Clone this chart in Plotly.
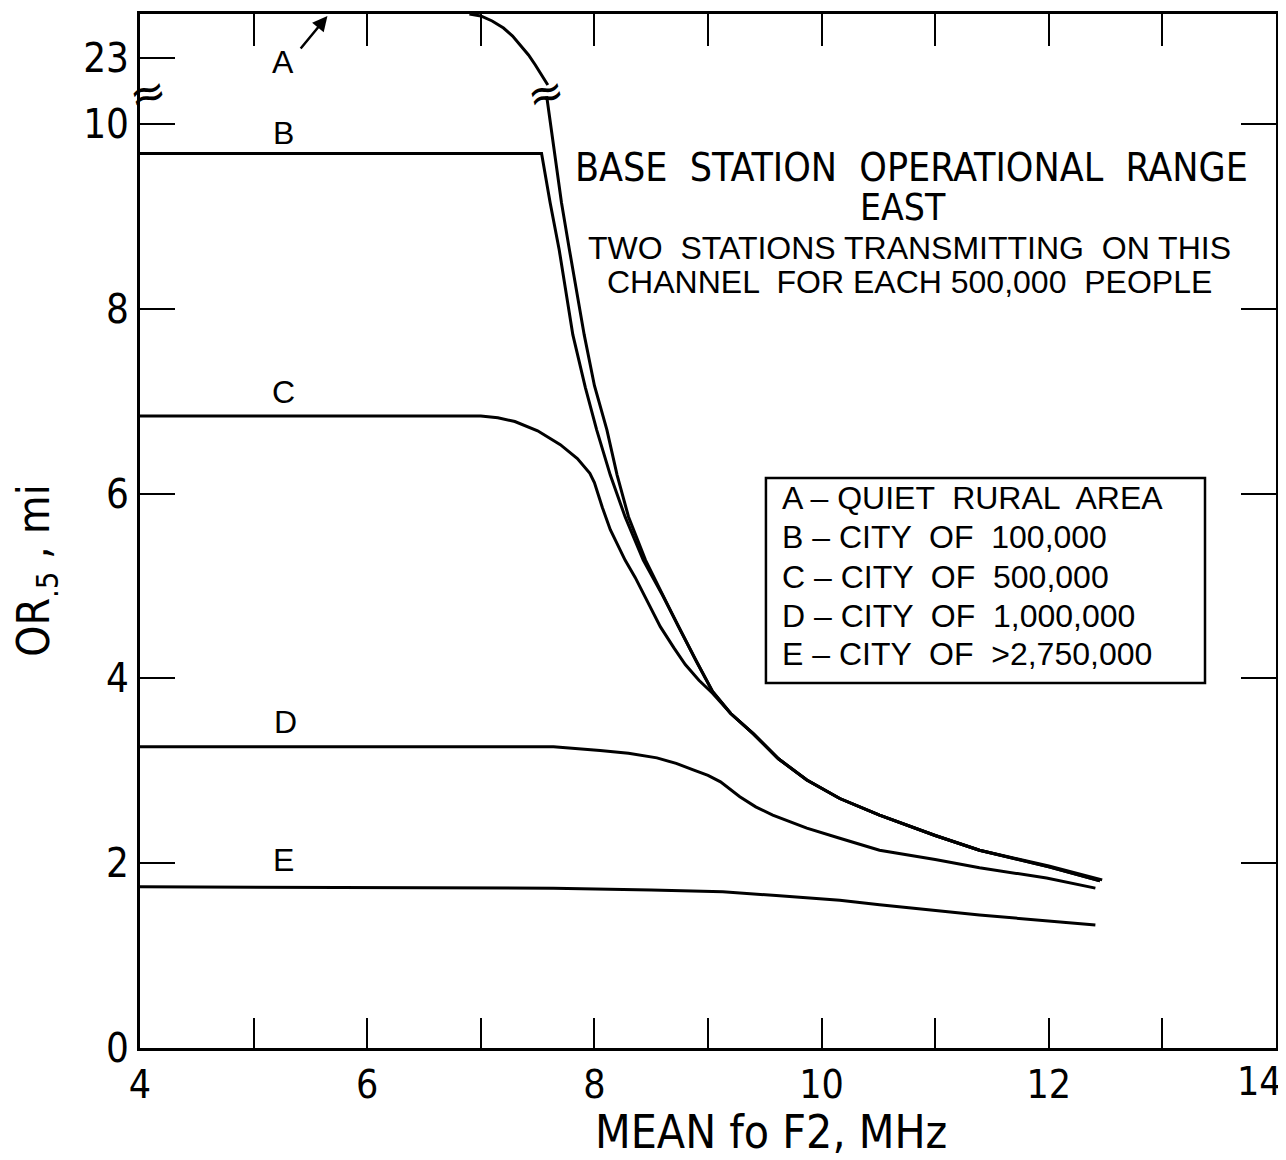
import plotly.graph_objects as go

# ---------------- data ----------------
# Curve A above the axis break (miles, upper scale)
A_up_x = [6.90, 7.00, 7.10, 7.20, 7.28, 7.35, 7.42, 7.48, 7.53, 7.57, 7.59]
A_up_y = [27.4, 27.2, 26.7, 26.0, 25.2, 24.3, 23.3, 22.3, 21.4, 20.7, 20.3]

# Curves below the break (miles)
A_x = [7.58, 7.65, 7.71, 7.78, 7.91, 8.00, 8.11, 8.20, 8.30, 8.45, 8.60, 8.74, 8.90, 9.04, 9.20, 9.40, 9.62, 9.87, 10.16, 10.51, 11.00, 11.39, 12.00, 12.47]
A_y = [10.30, 9.65, 9.15, 8.64, 7.72, 7.17, 6.69, 6.20, 5.75, 5.28, 4.90, 4.56, 4.18, 3.86, 3.62, 3.40, 3.13, 2.90, 2.70, 2.52, 2.30, 2.14, 1.97, 1.82]

B_x = [4.00, 7.535, 7.61, 7.69, 7.81, 7.92, 8.02, 8.14, 8.27, 8.43, 8.60, 8.74, 8.90, 9.04, 9.20, 9.40, 9.62, 9.87, 10.16, 10.51, 11.00, 11.39, 12.00, 12.45]
B_y = [9.68, 9.68, 9.15, 8.64, 7.72, 7.15, 6.69, 6.20, 5.75, 5.28, 4.90, 4.56, 4.18, 3.86, 3.62, 3.40, 3.13, 2.90, 2.70, 2.52, 2.30, 2.14, 1.96, 1.81]

C_x = [4.00, 7.00, 7.15, 7.30, 7.50, 7.70, 7.85, 7.96, 8.00, 8.07, 8.14, 8.27, 8.36, 8.47, 8.58, 8.70, 8.80, 8.92, 9.04, 9.20, 9.40, 9.62, 9.87, 10.16, 10.51, 11.00, 11.39, 12.00, 12.45]
C_y = [6.84, 6.84, 6.82, 6.78, 6.68, 6.53, 6.38, 6.22, 6.12, 5.85, 5.61, 5.28, 5.09, 4.82, 4.56, 4.33, 4.15, 3.98, 3.84, 3.62, 3.40, 3.13, 2.90, 2.70, 2.52, 2.30, 2.14, 1.96, 1.81]

D_x = [4.00, 7.64, 8.05, 8.30, 8.55, 8.72, 8.87, 9.00, 9.11, 9.20, 9.28, 9.42, 9.57, 9.72, 9.87, 10.16, 10.51, 11.00, 11.39, 11.98, 12.41]
D_y = [3.26, 3.26, 3.22, 3.19, 3.14, 3.08, 3.01, 2.95, 2.88, 2.79, 2.72, 2.61, 2.52, 2.45, 2.38, 2.27, 2.14, 2.04, 1.95, 1.84, 1.73]

E_x = [4.00, 7.64, 8.50, 9.13, 9.60, 10.16, 10.51, 11.39, 12.41]
E_y = [1.745, 1.73, 1.71, 1.69, 1.65, 1.60, 1.55, 1.44, 1.33]

x_ticks = [4, 5, 6, 7, 8, 9, 10, 11, 12, 13, 14]
x_ticktext = ["4", "", "6", "", "8", "", "10", "", "12", "", ""]   # "14" drawn at the right edge below
x_last_label = "14"
y_ticks = [0, 2, 4, 6, 8, 10]
y2_ticks = [23]

legend_lines = ["A – QUIET  RURAL  AREA", "B – CITY  OF  100,000", "C – CITY  OF  500,000",
                "D – CITY  OF  1,000,000", "E – CITY  OF  >2,750,000"]

# ---------------- figure ----------------
NARROW = "DejaVu Sans Condensed, Liberation Sans Narrow, Liberation Sans, Arial"
SANS = "Liberation Sans, Arial"
LINE = dict(color="black", width=3)

fig = go.Figure()
fig.add_trace(go.Scatter(x=A_up_x, y=A_up_y, xaxis="x", yaxis="y2", mode="lines", line=LINE,
                         showlegend=False, cliponaxis=True))
for xs, ys in [(A_x, A_y), (B_x, B_y), (C_x, C_y), (D_x, D_y), (E_x, E_y)]:
    fig.add_trace(go.Scatter(x=xs, y=ys, xaxis="x", yaxis="y", mode="lines",
                             line=dict(color="black", width=3), showlegend=False))

# the page body has an 8px margin, so the figure is 8px smaller than the window
W, H = 1278, 1152
L, R, T, B = 132, 10, 6, 112
pw, ph = W - L - R, H - T - B
brk_py = 85          # break position measured from the top of the figure
brk = (H - B - brk_py) / ph

fig.update_layout(
    width=W, height=H,
    margin=dict(l=L, r=R, t=T, b=B, autoexpand=False),
    paper_bgcolor="white", plot_bgcolor="white",
    showlegend=False,
    xaxis=dict(range=[4, 14], domain=[0, 1], anchor="y", tickvals=x_ticks, ticktext=x_ticktext,
               ticks="inside", ticklen=30, tickwidth=2, tickcolor="black", automargin=False,
               ticklabeloverflow="allow",
               showline=True, linecolor="black", linewidth=3, showgrid=False, zeroline=False,
               tickfont=dict(family=NARROW, size=39, color="black")),
    xaxis2=dict(range=[4, 14], overlaying="x", matches="x", anchor="y2", side="top",
                tickvals=x_ticks, ticks="inside", ticklen=32, tickwidth=2, tickcolor="black",
                showticklabels=False, showline=True, linecolor="black", linewidth=3,
                showgrid=False, zeroline=False, automargin=False),
    yaxis=dict(range=[0, (H - B - brk_py) / 92.4], domain=[0, brk], anchor="x",
               tickvals=y_ticks, ticks="inside", ticklen=35, tickwidth=2, tickcolor="black",
               showline=True, linecolor="black", linewidth=3, mirror="ticks", automargin=False,
               showgrid=False, zeroline=False,
               tickfont=dict(family=NARROW, size=40, color="black"),
               title=dict(text="OR<sub>.5</sub> , mi", font=dict(family=NARROW, size=44, color="black"), standoff=30)),
    yaxis2=dict(range=[19.5, 27.4], domain=[brk, 1], anchor="x",
                tickvals=y2_ticks, ticks="inside", ticklen=35, tickwidth=2, tickcolor="black",
                showline=True, linecolor="black", linewidth=3, mirror=True, automargin=False,
                showgrid=False, zeroline=False,
                tickfont=dict(family=NARROW, size=40, color="black")),
)
# invisible trace so the top axis is drawn
fig.add_trace(go.Scatter(x=[4], y=[30], xaxis="x2", yaxis="y2", mode="markers",
                         marker=dict(opacity=0), showlegend=False, hoverinfo="skip"))

ann = []
lab_font = dict(family=SANS, size=32, color="black")
ann.append(dict(x=5.26, y=22.6, xref="x", yref="y2", text="A", showarrow=False, font=lab_font))
ann.append(dict(x=5.26, y=9.90, xref="x", yref="y", text="B", showarrow=False, font=lab_font))
ann.append(dict(x=5.26, y=7.10, xref="x", yref="y", text="C", showarrow=False, font=lab_font))
ann.append(dict(x=5.28, y=3.53, xref="x", yref="y", text="D", showarrow=False, font=lab_font))
ann.append(dict(x=5.26, y=2.03, xref="x", yref="y", text="E", showarrow=False, font=lab_font))
# arrow from label A pointing to the off-scale curve
ann.append(dict(x=5.65, y=27.2, xref="x", yref="y2", ax=-28, ay=34, axref="pixel", ayref="pixel",
                text="", showarrow=True, arrowhead=2, arrowsize=1.2, arrowwidth=2.5, arrowcolor="black"))
# last x tick label, kept inside the page at the right edge
ann.append(dict(x=14, y=0, xref="x", yref="y", xanchor="right", yanchor="top", yshift=-9, xshift=8,
                text=x_last_label, showarrow=False, font=dict(family=NARROW, size=39, color="black")))
# axis break marks
brk_mark_y = (H - B - 84) / ph
ann.append(dict(x=0.007, y=brk_mark_y, xref="paper", yref="paper", xanchor="center", yanchor="middle",
                text="≈", showarrow=False, font=dict(family="DejaVu Sans", size=44, color="black"),
                textangle=-15))
ann.append(dict(x=7.57, y=brk_mark_y, xref="x", yref="paper", xanchor="center", yanchor="middle",
                text="≈", showarrow=False, font=dict(family="DejaVu Sans", size=44, color="black"),
                textangle=-15))
# x axis title
ann.append(dict(x=(763 - L) / pw, y=-(1124 - (H - B)) / ph, xref="paper", yref="paper",
                xanchor="center", yanchor="middle", text="MEAN fo F2, MHz", showarrow=False,
                font=dict(family=NARROW, size=46, color="black")))
# title block
ann.append(dict(x=10.79, y=9.53, xref="x", yref="y", text="BASE  STATION  OPERATIONAL  RANGE",
                showarrow=False, font=dict(family=NARROW, size=39, color="black")))
ann.append(dict(x=10.72, y=9.10, xref="x", yref="y", text="EAST",
                showarrow=False, font=dict(family=NARROW, size=37, color="black")))
ann.append(dict(x=10.77, y=8.66, xref="x", yref="y", text="TWO  STATIONS TRANSMITTING  ON THIS",
                showarrow=False, font=dict(family=SANS, size=32, color="black")))
ann.append(dict(x=10.77, y=8.29, xref="x", yref="y", text="CHANNEL  FOR EACH 500,000  PEOPLE",
                showarrow=False, font=dict(family=SANS, size=32, color="black")))
# legend box text
for t, yv in zip(legend_lines, [5.95, 5.53, 5.10, 4.675, 4.26]):
    ann.append(dict(x=9.63, y=yv, xref="x", yref="y", text=t, xanchor="left", showarrow=False,
                    font=dict(family=SANS, size=32, color="black")))
fig.update_layout(annotations=ann)

fig.add_shape(type="rect", xref="x", yref="y", x0=9.51, x1=13.375, y0=3.95, y1=6.17,
              line=dict(color="black", width=2.5), fillcolor="rgba(0,0,0,0)")

fig.write_html("out.html")
